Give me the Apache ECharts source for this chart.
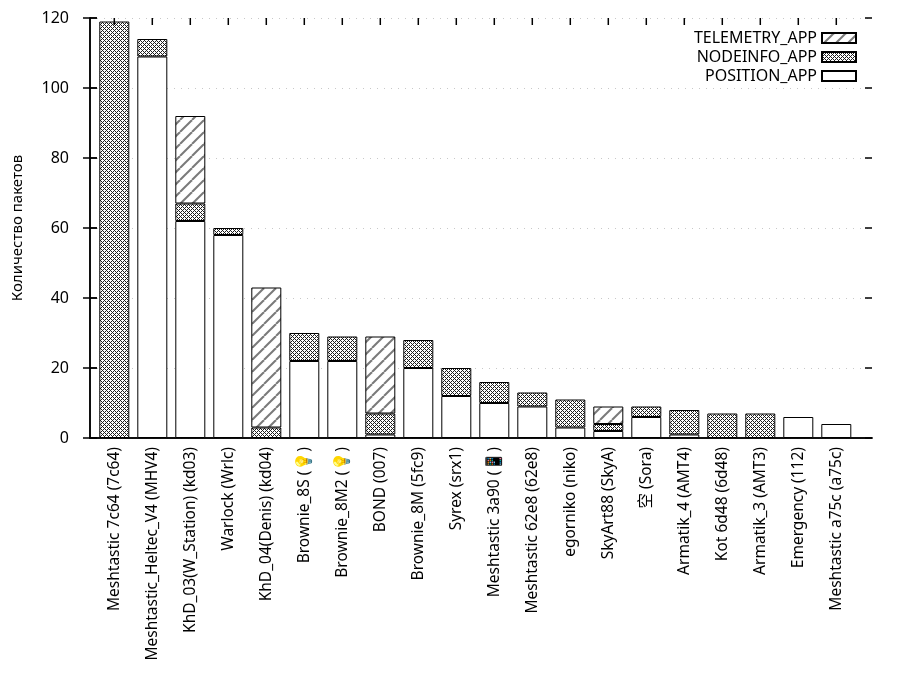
<!DOCTYPE html>
<html>
<head>
<meta charset="utf-8">
<script src="https://cdn.jsdelivr.net/npm/echarts@6/dist/echarts.min.js"></script>
<style>
  html, body { margin: 0; padding: 0; background: #fff; }
  #chart { width: 900px; height: 700px; }
</style>
</head>
<body>
<div id="chart"></div>
<script>
const categories = [
  'Meshtastic 7c64 (7c64)', 'Meshtastic_Heltec_V4 (MHV4)', 'KhD_03(W_Station) (kd03)',
  'Warlock (Wrlc)', 'KhD_04(Denis) (kd04)', 'Brownie_8S (💡)', 'Brownie_8M2 (💡)',
  'BOND (007)', 'Brownie_8M (5fc9)', 'Syrex (srx1)', 'Meshtastic 3a90 (📱)',
  'Meshtastic 62e8 (62e8)', 'egorniko (niko)', 'SkyArt88 (SkyA)', '空 (Sora)',
  'Armatik_4 (AMT4)', 'Kot 6d48 (6d48)', 'Armatik_3 (AMT3)', 'Emergency (112)',
  'Meshtastic a75c (a75c)'
];
const positionApp = [0, 109, 62, 58, 0, 22, 22, 1, 20, 12, 10, 9, 3, 2, 6, 1, 0, 0, 6, 4];
const nodeinfoApp = [119, 5, 5, 2, 3, 8, 7, 6, 8, 8, 6, 4, 8, 2, 3, 7, 7, 7, 0, 0];
const telemetryApp = [0, 0, 25, 0, 40, 0, 0, 22, 0, 0, 0, 0, 0, 5, 0, 0, 0, 0, 0, 0];
const yTicks = [0, 20, 40, 60, 80, 100, 120];
const yMax = 120;

const font = '"Noto Sans", "Noto Sans CJK SC", sans-serif';

// gnuplot-like fill patterns
const makeCross = () => {
  const c = document.createElement('canvas');
  c.width = 4; c.height = 4;
  const ctx = c.getContext('2d');
  ctx.fillStyle = '#ffffff';
  ctx.fillRect(0, 0, 4, 4);
  ctx.fillStyle = '#1e1e1e';
  for (let x = 0; x < 4; x++) {
    for (let y = 0; y < 4; y++) {
      if ((x + y) % 4 === 0 || (x - y + 4) % 4 === 0) ctx.fillRect(x, y, 1, 1);
    }
  }
  return c;
};

const makeStripe = () => {
  const s = 12;
  const c = document.createElement('canvas');
  c.width = s; c.height = s;
  const ctx = c.getContext('2d');
  ctx.fillStyle = '#ffffff';
  ctx.fillRect(0, 0, s, s);
  ctx.strokeStyle = '#7a7a7a';
  ctx.lineWidth = 2;
  [-s, 0, s].forEach((off) => {
    ctx.beginPath();
    ctx.moveTo(off, s);
    ctx.lineTo(off + s, 0);
    ctx.stroke();
  });
  return c;
};

const crossFill = { image: makeCross(), repeat: 'repeat' };
const stripeFill = { image: makeStripe(), repeat: 'repeat' };

const toData = (arr) => arr.map((v) => (v === 0 ? null : v));

const chart = echarts.init(document.getElementById('chart'));

const barBase = {
  type: 'bar',
  stack: 'total',
  barWidth: 30,
  xAxisIndex: 0,
  yAxisIndex: 0,
};

const tick = { show: true, inside: true, length: 7, lineStyle: { color: '#000', width: 1.5 } };
const frameLine = { show: true, lineStyle: { color: '#000', width: 1.5 } };

chart.setOption({
  animation: false,
  textStyle: { fontFamily: font },
  grid: [
    // bars: gnuplot leaves uneven padding at the ends of the x range
    { left: 95.3, right: 44.7, top: 18, bottom: 262 },
    // frame, y axes and grid lines
    { left: 90, right: 28, top: 18, bottom: 262 },
  ],
  legend: {
    orient: 'vertical',
    right: 38,
    top: 25,
    align: 'right',
    icon: 'rect',
    itemWidth: 34,
    itemHeight: 10,
    itemGap: 3,
    textStyle: { color: '#000', fontSize: 16, fontFamily: font },
    data: ['TELEMETRY_APP', 'NODEINFO_APP', 'POSITION_APP'],
  },
  xAxis: [
    {
      type: 'category',
      gridIndex: 0,
      data: categories,
      axisLine: { show: false },
      axisTick: { show: false },
      axisLabel: {
        rotate: 90,
        interval: 0,
        color: '#000',
        fontSize: 15.5,
        fontFamily: font,
        margin: 9,
      },
    },
    {
      type: 'value',
      gridIndex: 1,
      min: 0,
      max: 1,
      axisLine: frameLine,
      axisTick: { show: false },
      axisLabel: { show: false },
      splitLine: { show: false },
    },
    {
      type: 'value',
      gridIndex: 1,
      position: 'top',
      min: 0,
      max: 1,
      axisLine: frameLine,
      axisTick: { show: false },
      axisLabel: { show: false },
      splitLine: { show: false },
    },
  ],
  yAxis: [
    {
      type: 'value',
      gridIndex: 0,
      min: 0,
      max: yMax,
      interval: 20,
      show: false,
    },
    {
      type: 'value',
      gridIndex: 1,
      min: 0,
      max: yMax,
      interval: 20,
      name: 'Количество пакетов',
      nameLocation: 'middle',
      nameGap: 65,
      nameTextStyle: { color: '#000', fontSize: 15, fontFamily: font },
      axisLine: frameLine,
      axisTick: tick,
      axisLabel: {
        color: '#000',
        fontSize: 16,
        fontFamily: font,
        margin: 21,
      },
      splitLine: { show: true, lineStyle: { color: '#c8c8c8', type: [1, 6], width: 1 } },
    },
    {
      type: 'value',
      gridIndex: 1,
      min: 0,
      max: yMax,
      interval: 20,
      position: 'right',
      axisLine: frameLine,
      axisTick: tick,
      axisLabel: { show: false },
      splitLine: { show: false },
    },
  ],
  series: [
    {
      ...barBase,
      name: 'POSITION_APP',
      itemStyle: { color: '#ffffff', borderColor: '#000', borderWidth: 1 },
      data: toData(positionApp),
    },
    {
      ...barBase,
      name: 'NODEINFO_APP',
      itemStyle: { color: crossFill, borderColor: '#000', borderWidth: 1 },
      data: toData(nodeinfoApp),
    },
    {
      ...barBase,
      name: 'TELEMETRY_APP',
      itemStyle: { color: stripeFill, borderColor: '#000', borderWidth: 1 },
      data: toData(telemetryApp),
    },
  ],
});

// border ticks as graphic lines, positioned through the chart's own scales
const tickLines = [];
categories.forEach((c, i) => {
  const p = chart.convertToPixel({ xAxisIndex: 0, yAxisIndex: 0 }, [i, yMax]);
  tickLines.push({
    type: 'line',
    silent: true,
    z: 100,
    shape: { x1: p[0], y1: p[1], x2: p[0], y2: p[1] + 7 },
    style: { stroke: '#000', lineWidth: 1.5 },
  });
});
yTicks.forEach((v) => {
  const l = chart.convertToPixel({ xAxisIndex: 1, yAxisIndex: 1 }, [0, v]);
  const r = chart.convertToPixel({ xAxisIndex: 1, yAxisIndex: 1 }, [1, v]);
  tickLines.push({
    type: 'line', silent: true, z: 100,
    shape: { x1: l[0], y1: l[1], x2: l[0] + 7, y2: l[1] },
    style: { stroke: '#000', lineWidth: 1.5 },
  });
  tickLines.push({
    type: 'line', silent: true, z: 100,
    shape: { x1: r[0] - 7, y1: r[1], x2: r[0], y2: r[1] },
    style: { stroke: '#000', lineWidth: 1.5 },
  });
});
chart.setOption({ graphic: tickLines });
</script>
</body>
</html>
